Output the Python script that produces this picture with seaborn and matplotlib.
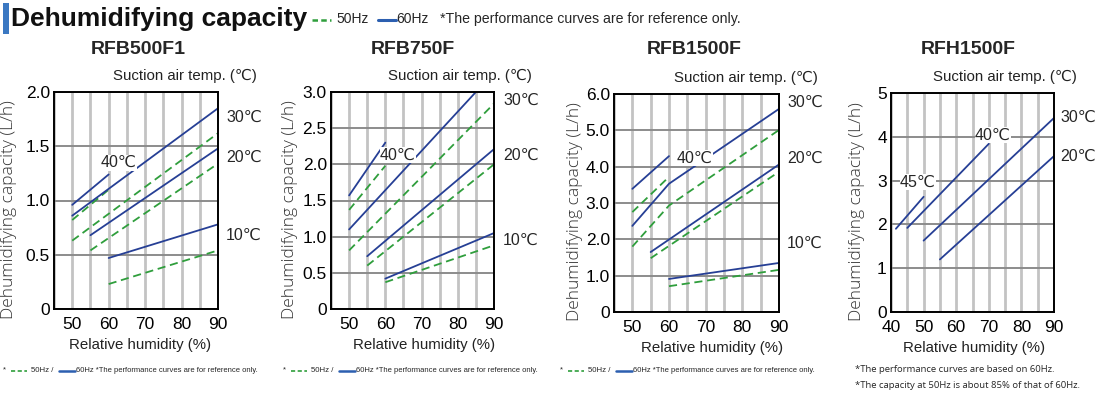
import matplotlib
matplotlib.use("Agg")
import numpy as np
import pandas as pd
import seaborn as sns
import matplotlib.pyplot as plt
import matplotlib.transforms as mtransforms
from matplotlib.lines import Line2D
from matplotlib.patches import Rectangle

# ---------------- data ----------------
FREQS = ["50Hz", "60Hz"]

# temperature label -> (relative humidity %, capacity L/h)
RFB500F1_60HZ = {"40": ([50, 60], [0.96, 1.24]),
                 "30": ([50, 90], [0.86, 1.85]),
                 "20": ([55, 90], [0.68, 1.48]),
                 "10": ([60, 90], [0.47, 0.78])}
RFB500F1_50HZ = {"40": ([50, 60], [0.82, 1.10]),
                 "30": ([50, 90], [0.63, 1.62]),
                 "20": ([55, 90], [0.54, 1.34]),
                 "10": ([60, 90], [0.23, 0.54])}

RFB750F_60HZ = {"40": ([50, 60], [1.57, 2.30]),
                "30": ([50, 85], [1.10, 3.00]),
                "20": ([55, 90], [0.73, 2.21]),
                "10": ([60, 90], [0.42, 1.05])}
RFB750F_50HZ = {"40": ([50, 60], [1.37, 1.98]),
                "30": ([50, 90], [0.81, 2.84]),
                "20": ([55, 90], [0.60, 2.00]),
                "10": ([60, 90], [0.37, 0.88])}

RFB1500F_60HZ = {"40": ([50, 60], [3.39, 4.29]),
                 "30": ([50, 60, 90], [2.37, 3.53, 5.59]),
                 "20": ([55, 90], [1.65, 4.06]),
                 "10": ([60, 90], [0.91, 1.35])}
RFB1500F_50HZ = {"40": ([50, 60], [2.75, 3.72]),
                 "30": ([50, 60, 90], [1.80, 2.93, 5.01]),
                 "20": ([55, 90], [1.48, 3.86]),
                 "10": ([60, 90], [0.71, 1.16])}

RFH1500F_60HZ = {"45": ([41.5, 50], [1.90, 2.63]),
                 "40": ([45, 70], [1.92, 3.84]),
                 "30": ([50, 90], [1.63, 4.43]),
                 "20": ([55, 90], [1.20, 3.56])}
RFH1500F_50HZ = {}

MODELS = ["RFB500F1", "RFB750F", "RFB1500F", "RFH1500F"]
XTICKS_A = [50, 60, 70, 80, 90]
XTICKS_B = [40, 50, 60, 70, 80, 90]
YTICKS_1 = [0, 0.5, 1.0, 1.5, 2.0]
YLABELS_1 = ["0", "0.5", "1.0", "1.5", "2.0"]
YTICKS_2 = [0, 0.5, 1.0, 1.5, 2.0, 2.5, 3.0]
YLABELS_2 = ["0", "0.5", "1.0", "1.5", "2.0", "2.5", "3.0"]
YTICKS_3 = [0, 1, 2, 3, 4, 5, 6]
YLABELS_3 = ["0", "1.0", "2.0", "3.0", "4.0", "5.0", "6.0"]
YTICKS_4 = [0, 1, 2, 3, 4, 5]
YLABELS_4 = ["0", "1", "2", "3", "4", "5"]


def to_frame(s60, s50):
    rows = []
    for freq, series in (("50Hz", s50), ("60Hz", s60)):
        for temp, (xs, ys) in series.items():
            for x, y in zip(xs, ys):
                rows.append({"rh": x, "cap": y, "freq": freq,
                             "series": f"{freq}-{temp}"})
    return pd.DataFrame(rows)


# ---------------- style ----------------
sns.set_theme(style="white")
NARROW = ["Liberation Sans Narrow", "Liberation Sans", "DejaVu Sans"]
HUMAN = ["Open Sans", "DejaVu Sans"]
plt.rcParams["font.family"] = NARROW

BLUE = "#263f95"
GREEN = "#2f9e3c"
PAL = {"50Hz": GREEN, "60Hz": BLUE}
DASH = {"50Hz": (4.5, 2.6), "60Hz": ""}

W, H = 1099, 398
fig = plt.figure(figsize=(W / 100, H / 100), dpi=100)
fig.patch.set_facecolor("white")


def fx(px):
    return px / W


def fy(py):
    return 1 - py / H


def ftext(x, y, s, **kw):
    return fig.text(fx(x), fy(y), s, **kw)


# header
fig.add_artist(Rectangle((fx(3), fy(34)), fx(9) - fx(3), fy(3) - fy(34),
                         transform=fig.transFigure, color="#3b78c2", lw=0))
ftext(11, 19, "Dehumidifying capacity", fontsize=19, fontweight="bold",
      va="center", ha="left", color="#111111")
fig.add_artist(Line2D([fx(312), fx(331)], [fy(20), fy(20)], transform=fig.transFigure,
                      color=GREEN, lw=1.8, dashes=(2.2, 1.3)))
ftext(336, 19, "50Hz", fontsize=10, va="center", ha="left")
fig.add_artist(Line2D([fx(378), fx(396)], [fy(20), fy(20)], transform=fig.transFigure,
                      color="#2c5fb0", lw=2.2))
ftext(396, 19, "60Hz", fontsize=10, va="center", ha="left")
ftext(440, 19, "*The performance curves are for reference only.", fontsize=10.2,
      va="center", ha="left")

RECTS = [(54, 92, 218, 309), (331, 92, 494, 309), (614, 94, 779, 312), (891, 93, 1054, 312)]
TITLE_X = [138, 413, 694, 968]
DATA = [(RFB500F1_60HZ, RFB500F1_50HZ), (RFB750F_60HZ, RFB750F_50HZ),
        (RFB1500F_60HZ, RFB1500F_50HZ), (RFH1500F_60HZ, RFH1500F_50HZ)]
XLIMS = [(45, 90), (45, 90), (45, 90), (40, 90)]
XTICKS = [XTICKS_A, XTICKS_A, XTICKS_A, XTICKS_B]
YTICKS = [YTICKS_1, YTICKS_2, YTICKS_3, YTICKS_4]
YLABELS = [YLABELS_1, YLABELS_2, YLABELS_3, YLABELS_4]
# label placements: (text, x, y, inside?)
LABELS = [
    [("40℃", 62.6, 1.35, True), ("30℃", 1.05, 1.77, False), ("20℃", 1.05, 1.40, False), ("10℃", 1.05, 0.68, False)],
    [("40℃", 63.5, 2.13, True), ("30℃", 1.055, 2.89, False), ("20℃", 1.055, 2.13, False), ("10℃", 1.055, 0.95, False)],
    [("40℃", 67.1, 4.24, True), ("30℃", 1.05, 5.78, False), ("20℃", 1.05, 4.24, False), ("10℃", 1.05, 1.90, False)],
    [("45℃", 48.3, 2.97, True), ("40℃", 71.3, 4.04, True), ("30℃", 1.04, 4.45, False), ("20℃", 1.04, 3.56, False)],
]
YLAB_X = [-0.228, -0.20, -0.19, -0.16]
XLAB_X = [0.524, 0.574, 0.596, 0.51]
SUCT_X = [1.24, 1.233, 1.236, 1.141]

for i, model in enumerate(MODELS):
    l, t, r, b = RECTS[i]
    ax = fig.add_axes([fx(l), fy(b), fx(r) - fx(l), fy(t) - fy(b)])
    s60, s50 = DATA[i]
    df = to_frame(s60, s50)
    levels = [f for f in FREQS if f in set(df["freq"])]
    ax.set_axisbelow(True)
    sns.lineplot(data=df, x="rh", y="cap", hue="freq", style="freq", units="series",
                 estimator=None, sort=False, hue_order=levels, style_order=levels,
                 palette={k: PAL[k] for k in levels}, dashes={k: DASH[k] for k in levels},
                 linewidth=1.3, legend=False, ax=ax, zorder=3)
    x0, x1 = XLIMS[i]
    ax.set_xlim(x0, x1)
    ax.set_ylim(YTICKS[i][0], YTICKS[i][-1])
    ax.set_xticks(XTICKS[i])
    ax.set_xticks(np.arange(x0, x1 + 0.1, 5), minor=True)
    ax.set_yticks(YTICKS[i])
    ax.set_yticklabels(YLABELS[i])
    ax.tick_params(which="both", length=0, labelsize=12.5, colors="black")
    ax.tick_params(axis="y", pad=3)
    ax.tick_params(axis="x", pad=6)
    ax.grid(axis="x", which="both", color="#c3c3c3", lw=2.0)
    ax.grid(axis="y", which="major", color="#8c8c8c", lw=1.4)
    for sp in ax.spines.values():
        sp.set_color("black")
        sp.set_linewidth(1.4)
        sp.set_zorder(5)
    ax.set_xlabel("Relative humidity (%)", fontsize=10.8, va="top", color="#222222")
    ax.xaxis.set_label_coords(XLAB_X[i], -0.134)
    ax.set_ylabel("Dehumidifying capacity (L/h)", fontsize=12.5, family=HUMAN,
                  fontweight="light", color="#333333")
    ax.yaxis.set_label_coords(YLAB_X[i], 0.46)
    ax.text(SUCT_X[i], 1.075, "Suction air temp. (℃)", transform=ax.transAxes,
            ha="right", va="center", fontsize=10.8, clip_on=False, color="#222222")
    ftext(TITLE_X[i], 50, model, fontsize=14, fontweight="bold", ha="center", va="center")
    blend = mtransforms.blended_transform_factory(ax.transAxes, ax.transData)
    for txt, lx, ly, inside in LABELS[i]:
        if inside:
            ax.text(lx, ly, txt, ha="center", va="center", fontsize=11.5, zorder=6,
                    bbox=dict(facecolor="white", edgecolor="none", pad=0.3))
        else:
            ax.text(lx, ly, txt, transform=blend, ha="left", va="center",
                    fontsize=11.5, clip_on=False)

# footers for the first three panels
for x0 in (3, 283, 560):
    ftext(x0, 370, "*", fontsize=5.6, va="center", ha="left")
    fig.add_artist(Line2D([fx(x0 + 8), fx(x0 + 24)], [fy(371), fy(371)],
                          transform=fig.transFigure, color=GREEN, lw=1.2, dashes=(2.5, 1.5)))
    ftext(x0 + 28, 371, "50Hz /", fontsize=5.6, va="center", ha="left")
    fig.add_artist(Line2D([fx(x0 + 56), fx(x0 + 72)], [fy(371), fy(371)],
                          transform=fig.transFigure, color="#2c5fb0", lw=1.8))
    ftext(x0 + 73, 371, "60Hz *The performance curves are for reference only.",
          fontsize=5.5, va="center", ha="left")

ftext(855, 370, "*The performance curves are based on 60Hz.", fontsize=6.8,
      va="center", ha="left", family=HUMAN)
ftext(855, 386, "*The capacity at 50Hz is about 85% of that of 60Hz.", fontsize=6.8,
      va="center", ha="left", family=HUMAN)

fig.savefig("out.png", dpi=100, facecolor="white")
